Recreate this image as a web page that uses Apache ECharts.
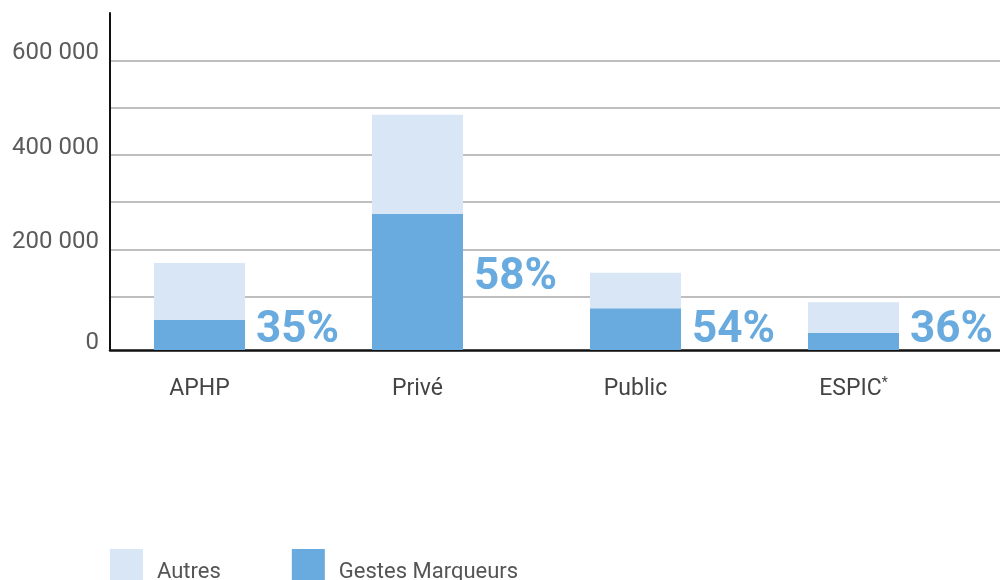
<!DOCTYPE html>
<html>
<head>
<meta charset="utf-8">
<script src="https://cdn.jsdelivr.net/npm/echarts@6/dist/echarts.min.js"></script>
<style>html,body{margin:0;background:#fff;}</style>
</head>
<body>
<div id="main" style="width:1000px;height:580px;"></div>
<script>
// valeurs
var categories = ['APHP', 'Privé', 'Public', 'ESPIC*'];
var gestesMarqueurs = [64000, 288000, 88000, 36000];
var autres = [120000, 209000, 75000, 65000];
var pourcentages = [35, 58, 54, 36];
var yLabels = [0, 200000, 400000, 600000];

var clair = '#d9e6f6';
var fonce = '#69abdf';
var policeAxe = {fontSize: 24, color: '#5b5b5b', fontFamily: 'Roboto', lineHeight: 14, verticalAlign: 'bottom'};

function milliers(v) {
    return String(v).replace(/\B(?=(\d{3})+(?!\d))/g, ' ');
}

// le label de Privé est placé plus haut que les autres
var marqData = gestesMarqueurs.map(function (v, i) {
    var item = {value: v};
    if (i === 1) item.label = {offset: [11, -50]};
    return item;
});

var myChart = echarts.init(document.getElementById('main'));
var option = {
    animation: false,
    grid: [
        // lignes de grille et graduations
        {left: 110, right: 0, top: 13, bottom: 236},
        // barres
        {left: 90.5, right: 37.5, top: 13, bottom: 230},
        // axes noirs
        {left: 110, right: 0, top: 13, bottom: 230}
    ],
    legend: {
        data: ['Autres', 'Gestes Marqueurs'],
        left: 110,
        top: 549,
        padding: 0,
        icon: 'rect',
        itemWidth: 33,
        itemHeight: 33,
        itemGap: 71,
        formatter: '{t|{name}}',
        textStyle: {
            rich: {
                t: {fontSize: 22, color: '#555', fontFamily: 'Roboto', padding: [13, 0, 0, 9]}
            }
        }
    },
    xAxis: [
        {gridIndex: 0, type: 'value', min: 0, max: 1, show: false},
        {
            gridIndex: 1, type: 'category', data: categories,
            axisLine: {show: false}, axisTick: {show: false},
            axisLabel: {
                margin: 26,
                formatter: function (v) {
                    if (v.indexOf('*') >= 0) return '{n|' + v.replace('*', '') + '}{sup|*}';
                    return '{n|' + v + '}';
                },
                rich: {
                    n: {fontSize: 23, lineHeight: 26, color: '#444', fontFamily: 'Roboto'},
                    sup: {fontSize: 14, lineHeight: 14, verticalAlign: 'top', color: '#444', fontFamily: 'Roboto'}
                }
            }
        },
        {
            gridIndex: 2, type: 'value', min: 0, max: 1,
            axisLine: {show: true, lineStyle: {color: '#111', width: 2.5}},
            axisTick: {show: false}, axisLabel: {show: false}, splitLine: {show: false}
        }
    ],
    yAxis: [
        {
            gridIndex: 0, type: 'value', min: 0, max: 700000, interval: 100000,
            axisLine: {show: false},
            axisTick: {show: false},
            axisLabel: Object.assign({
                margin: 11,
                formatter: function (v) {
                    return (v > 0 && yLabels.indexOf(v) >= 0) ? milliers(v) : '';
                }
            }, policeAxe),
            splitLine: {
                show: true, showMinLine: false, showMaxLine: false,
                lineStyle: {width: 1.5, color: '#aaa'}
            }
        },
        {gridIndex: 1, type: 'value', min: 0, max: 712000, show: false},
        {
            gridIndex: 2, type: 'value', min: 0, max: 1, interval: 1,
            axisLine: {show: true, lineStyle: {color: '#111', width: 2}},
            axisTick: {show: false},
            splitLine: {show: false},
            axisLabel: Object.assign({
                margin: 11,
                formatter: function (v) { return v === 0 ? milliers(yLabels[0]) : ''; }
            }, policeAxe)
        }
    ],
    series: [
        {
            name: 'Gestes Marqueurs', type: 'bar', stack: 'total',
            xAxisIndex: 1, yAxisIndex: 1, barWidth: 91,
            itemStyle: {color: fonce},
            label: {
                show: true,
                position: ['100%', '100%'],
                align: 'left',
                verticalAlign: 'bottom',
                offset: [11, 3],
                fontSize: 44, fontWeight: 'bold', fontFamily: 'Roboto', color: fonce,
                formatter: function (p) { return pourcentages[p.dataIndex] + '%'; }
            },
            data: marqData
        },
        {
            name: 'Autres', type: 'bar', stack: 'total',
            xAxisIndex: 1, yAxisIndex: 1, barWidth: 91,
            itemStyle: {color: clair},
            data: autres
        }
    ]
};
myChart.setOption(option);
</script>
</body>
</html>
